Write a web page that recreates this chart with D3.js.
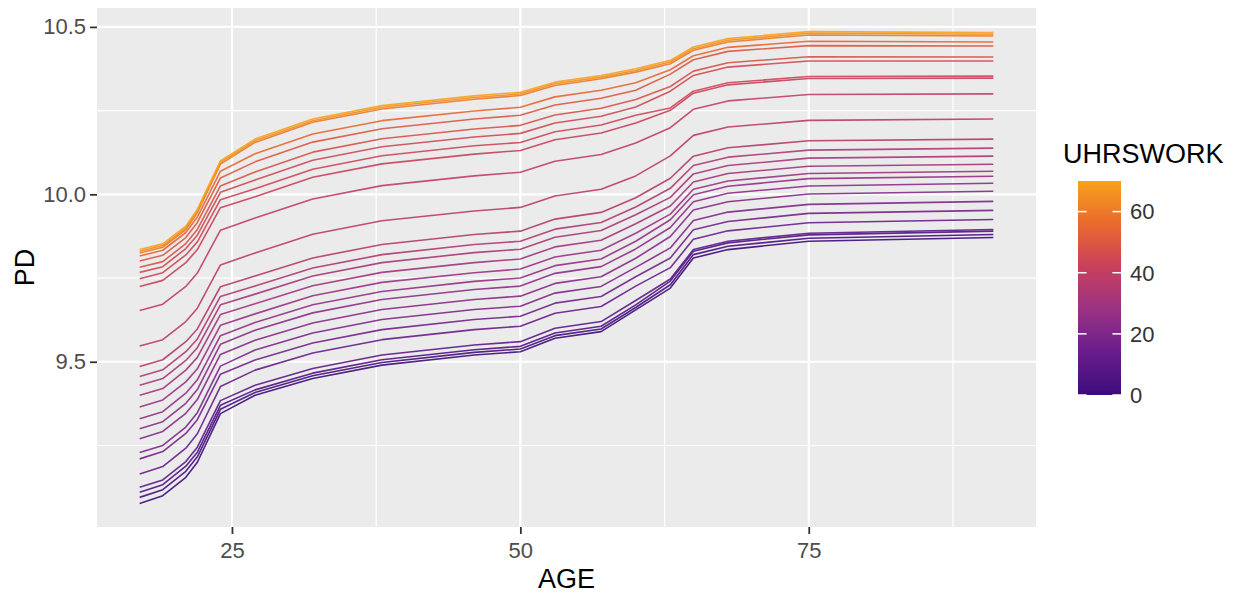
<!DOCTYPE html>
<html lang="en">
<head>
<meta charset="UTF-8">
<title>PD by AGE and UHRSWORK</title>
<style>
  html, body { margin: 0; padding: 0; background: #fff; }
  svg text { font-family: "Liberation Sans", Arial, sans-serif; }
</style>
</head>
<body>
<div id="wrapper"></div>
<script src="https://d3js.org/d3.v7.min.js"></script>
<script>
// x grid of the partial dependence (AGE)
const ages = [17, 19, 21, 22, 24, 27, 32, 38, 46, 50, 53, 57, 60, 63, 65, 68, 75, 91];

// PD curves, one per UHRSWORK value
const pdH70 = [9.835, 9.852, 9.905, 9.955, 10.100, 10.165, 10.225, 10.265, 10.294, 10.305, 10.335, 10.355, 10.375, 10.400, 10.440, 10.465, 10.486, 10.483];
const pdH65 = [9.830, 9.847, 9.900, 9.950, 10.095, 10.160, 10.220, 10.260, 10.289, 10.300, 10.330, 10.350, 10.370, 10.395, 10.435, 10.460, 10.481, 10.478];
const pdH60 = [9.825, 9.842, 9.895, 9.945, 10.090, 10.155, 10.215, 10.255, 10.284, 10.295, 10.325, 10.345, 10.365, 10.390, 10.430, 10.455, 10.476, 10.473];
const pdH55 = [9.816, 9.833, 9.886, 9.932, 10.069, 10.121, 10.180, 10.220, 10.249, 10.260, 10.291, 10.311, 10.333, 10.372, 10.414, 10.439, 10.457, 10.455];
const pdH50 = [9.801, 9.818, 9.871, 9.916, 10.049, 10.097, 10.156, 10.196, 10.225, 10.236, 10.267, 10.287, 10.311, 10.359, 10.402, 10.427, 10.444, 10.443];
const pdH48 = [9.782, 9.799, 9.853, 9.895, 10.025, 10.067, 10.126, 10.166, 10.195, 10.206, 10.237, 10.257, 10.283, 10.322, 10.368, 10.393, 10.411, 10.410];
const pdH45 = [9.767, 9.784, 9.838, 9.878, 10.006, 10.043, 10.102, 10.142, 10.171, 10.182, 10.213, 10.233, 10.261, 10.308, 10.355, 10.380, 10.398, 10.398];
const pdH44 = [9.748, 9.766, 9.819, 9.858, 9.984, 10.017, 10.075, 10.115, 10.145, 10.155, 10.187, 10.207, 10.236, 10.258, 10.308, 10.333, 10.352, 10.353];
const pdH42 = [9.725, 9.743, 9.796, 9.835, 9.960, 9.993, 10.051, 10.091, 10.120, 10.131, 10.163, 10.183, 10.213, 10.251, 10.302, 10.327, 10.346, 10.347];
const pdH40 = [9.653, 9.672, 9.725, 9.765, 9.893, 9.929, 9.986, 10.026, 10.055, 10.066, 10.099, 10.119, 10.153, 10.199, 10.254, 10.279, 10.298, 10.300];
const pdH38 = [9.547, 9.566, 9.620, 9.660, 9.789, 9.825, 9.881, 9.921, 9.950, 9.961, 9.995, 10.015, 10.055, 10.115, 10.176, 10.201, 10.221, 10.225];
const pdH36 = [9.486, 9.506, 9.560, 9.598, 9.724, 9.756, 9.810, 9.850, 9.880, 9.890, 9.926, 9.946, 9.990, 10.048, 10.114, 10.139, 10.160, 10.165];
const pdH34 = [9.456, 9.476, 9.530, 9.568, 9.695, 9.726, 9.780, 9.820, 9.850, 9.860, 9.896, 9.916, 9.962, 10.018, 10.086, 10.111, 10.132, 10.138];
const pdH32 = [9.430, 9.450, 9.504, 9.542, 9.670, 9.702, 9.756, 9.796, 9.826, 9.836, 9.872, 9.892, 9.939, 9.991, 10.061, 10.086, 10.108, 10.114];
const pdH30 = [9.400, 9.420, 9.475, 9.513, 9.641, 9.673, 9.727, 9.767, 9.796, 9.807, 9.843, 9.863, 9.912, 9.965, 10.037, 10.062, 10.084, 10.090];
const pdH28 = [9.365, 9.386, 9.440, 9.479, 9.609, 9.643, 9.697, 9.737, 9.766, 9.777, 9.813, 9.833, 9.884, 9.941, 10.015, 10.040, 10.062, 10.069];
const pdH26 = [9.330, 9.351, 9.406, 9.446, 9.578, 9.617, 9.670, 9.710, 9.740, 9.750, 9.787, 9.807, 9.860, 9.924, 9.999, 10.024, 10.047, 10.054];
const pdH24 = [9.300, 9.321, 9.376, 9.417, 9.552, 9.594, 9.646, 9.686, 9.716, 9.726, 9.764, 9.784, 9.837, 9.901, 9.978, 10.003, 10.025, 10.033];
const pdH22 = [9.270, 9.292, 9.346, 9.387, 9.522, 9.564, 9.616, 9.656, 9.686, 9.696, 9.734, 9.754, 9.809, 9.874, 9.953, 9.978, 10.001, 10.009];
const pdH20 = [9.229, 9.250, 9.305, 9.348, 9.487, 9.535, 9.586, 9.626, 9.656, 9.666, 9.705, 9.725, 9.782, 9.840, 9.922, 9.947, 9.970, 9.979];
const pdH17 = [9.210, 9.232, 9.286, 9.327, 9.463, 9.505, 9.556, 9.596, 9.626, 9.636, 9.675, 9.695, 9.754, 9.810, 9.894, 9.919, 9.943, 9.952];
const pdH14 = [9.165, 9.187, 9.242, 9.285, 9.426, 9.475, 9.526, 9.566, 9.596, 9.606, 9.645, 9.665, 9.726, 9.781, 9.866, 9.891, 9.915, 9.925];
const pdH10 = [9.125, 9.147, 9.202, 9.245, 9.384, 9.430, 9.480, 9.520, 9.550, 9.560, 9.600, 9.620, 9.683, 9.747, 9.835, 9.860, 9.884, 9.895];
const pdH6  = [9.110, 9.133, 9.188, 9.230, 9.370, 9.416, 9.466, 9.506, 9.536, 9.546, 9.586, 9.606, 9.670, 9.741, 9.830, 9.855, 9.879, 9.890];
const pdH3  = [9.095, 9.118, 9.173, 9.216, 9.358, 9.408, 9.458, 9.498, 9.528, 9.538, 9.578, 9.598, 9.662, 9.730, 9.820, 9.845, 9.869, 9.880];
const pdH0  = [9.077, 9.100, 9.155, 9.200, 9.345, 9.400, 9.450, 9.490, 9.520, 9.530, 9.570, 9.590, 9.655, 9.720, 9.810, 9.835, 9.860, 9.871];

const hours = [0, 3, 6, 10, 14, 17, 20, 22, 24, 26, 28, 30, 32, 34, 36, 38, 40, 42, 44, 45, 48, 50, 55, 60, 65, 70];
const curves = [pdH0, pdH3, pdH6, pdH10, pdH14, pdH17, pdH20, pdH22, pdH24, pdH26, pdH28, pdH30, pdH32,
                pdH34, pdH36, pdH38, pdH40, pdH42, pdH44, pdH45, pdH48, pdH50, pdH55, pdH60, pdH65, pdH70];

// ticks
const xTicks = [25, 50, 75];
const xMinor = [37.5, 62.5, 87.5];
const yTicks = [9.5, 10.0, 10.5];
const yMinor = [9.25, 9.75, 10.25];
const legendTicks = [0, 20, 40, 60];

// colour ramp (purple -> red -> orange)
const colourStops = [0, 14, 28, 42, 56, 70];
const colourValues = ["#3d0b7c", "#681d8b", "#9a3284", "#c8405c", "#ea692d", "#f7a21c"];

const width = 1249, height = 598;
const panel = { left: 97, right: 1036, top: 8, bottom: 527 };

const svg = d3.select('#wrapper').append('svg')
    .attr('width', width)
    .attr('height', height);

// ggplot style 5% expansion
const xExt = d3.extent(ages);
const yExt = d3.extent(curves.flat());
const xPad = (xExt[1] - xExt[0]) * 0.05;
const yPad = (yExt[1] - yExt[0]) * 0.05;

const x = d3.scaleLinear()
    .domain([xExt[0] - xPad, xExt[1] + xPad])
    .range([panel.left, panel.right]);
const y = d3.scaleLinear()
    .domain([yExt[0] - yPad, yExt[1] + yPad])
    .range([panel.bottom, panel.top]);
const colour = d3.scaleLinear()
    .domain(colourStops)
    .range(colourValues)
    .interpolate(d3.interpolateRgb);

// panel background
svg.append('rect')
    .attr('x', panel.left)
    .attr('y', panel.top)
    .attr('width', panel.right - panel.left)
    .attr('height', panel.bottom - panel.top)
    .attr('fill', '#ebebeb');

// minor grid
const grid = svg.append('g');
grid.selectAll('.xminor').data(xMinor).join('line')
    .attr('x1', d => x(d)).attr('x2', d => x(d))
    .attr('y1', panel.top).attr('y2', panel.bottom)
    .attr('stroke', '#fff').attr('stroke-width', 1.2);
grid.selectAll('.yminor').data(yMinor).join('line')
    .attr('y1', d => y(d)).attr('y2', d => y(d))
    .attr('x1', panel.left).attr('x2', panel.right)
    .attr('stroke', '#fff').attr('stroke-width', 1.2);

// major grid
grid.selectAll('.xmajor').data(xTicks).join('line')
    .attr('x1', d => x(d)).attr('x2', d => x(d))
    .attr('y1', panel.top).attr('y2', panel.bottom)
    .attr('stroke', '#fff').attr('stroke-width', 2.2);
grid.selectAll('.ymajor').data(yTicks).join('line')
    .attr('y1', d => y(d)).attr('y2', d => y(d))
    .attr('x1', panel.left).attr('x2', panel.right)
    .attr('stroke', '#fff').attr('stroke-width', 2.2);

// the PD lines, low hours first so the orange ones sit on top
const line = d3.line()
    .x((d, i) => x(ages[i]))
    .y(d => y(d));

svg.append('g')
    .selectAll('path')
    .data(curves)
    .join('path')
    .attr('d', d => line(d))
    .attr('fill', 'none')
    .attr('stroke', (d, i) => colour(hours[i]))
    .attr('stroke-opacity', 0.9)
    .attr('stroke-width', 1.6)
    .attr('stroke-linejoin', 'round');

// axes
const xAxis = d3.axisBottom(x)
    .tickValues(xTicks)
    .tickSizeInner(7)
    .tickSizeOuter(0)
    .tickPadding(8);
const xAxisG = svg.append('g')
    .attr('transform', `translate(0,${panel.bottom})`)
    .call(xAxis);

const yAxis = d3.axisLeft(y)
    .tickValues(yTicks)
    .tickFormat(d3.format('.1f'))
    .tickSizeInner(7)
    .tickSizeOuter(0)
    .tickPadding(4);
const yAxisG = svg.append('g')
    .attr('transform', `translate(${panel.left},0)`)
    .call(yAxis);

[xAxisG, yAxisG].forEach(g => {
    g.select('.domain').remove();
    g.selectAll('.tick line').attr('stroke', '#333').attr('stroke-width', 1.8);
    g.selectAll('.tick text')
        .attr('fill', '#4d4d4d')
        .style('font-size', '22px')
        .style('font-family', '"Liberation Sans", Arial, sans-serif');
});

// axis titles
svg.append('text')
    .attr('x', (panel.left + panel.right) / 2)
    .attr('y', 588)
    .attr('text-anchor', 'middle')
    .style('font-size', '27px')
    .attr('fill', '#000')
    .text('AGE');

svg.append('text')
    .attr('transform', `translate(34,${(panel.top + panel.bottom) / 2}) rotate(-90)`)
    .attr('text-anchor', 'middle')
    .style('font-size', '27px')
    .attr('fill', '#000')
    .text('PD');

// colour bar legend
const bar = { left: 1078, width: 43 };
const lg = d3.scaleLinear()
    .domain(d3.extent(hours))
    .range([395, 181]);

const defs = svg.append('defs');
const grad = defs.append('linearGradient')
    .attr('id', 'hoursGrad')
    .attr('x1', 0).attr('y1', 1)
    .attr('x2', 0).attr('y2', 0);
const gradSteps = d3.range(0, 1.0001, 0.05);
grad.selectAll('stop').data(gradSteps).join('stop')
    .attr('offset', d => d)
    .attr('stop-color', d => colour(d3.min(hours) + d * (d3.max(hours) - d3.min(hours))));

svg.append('text')
    .attr('x', 1063)
    .attr('y', 163)
    .style('font-size', '27px')
    .attr('fill', '#000')
    .text('UHRSWORK');

svg.append('rect')
    .attr('x', bar.left)
    .attr('y', lg(d3.max(hours)))
    .attr('width', bar.width)
    .attr('height', lg(d3.min(hours)) - lg(d3.max(hours)))
    .attr('fill', 'url(#hoursGrad)');

const legendTickG = svg.append('g');
legendTickG.selectAll('.tl').data(legendTicks).join('line')
    .attr('x1', bar.left).attr('x2', bar.left + bar.width / 5)
    .attr('y1', d => lg(d)).attr('y2', d => lg(d))
    .attr('stroke', '#fff').attr('stroke-width', 1.5);
legendTickG.selectAll('.tr').data(legendTicks).join('line')
    .attr('x1', bar.left + bar.width * 4 / 5).attr('x2', bar.left + bar.width)
    .attr('y1', d => lg(d)).attr('y2', d => lg(d))
    .attr('stroke', '#fff').attr('stroke-width', 1.5);

svg.append('g')
    .selectAll('text')
    .data(legendTicks)
    .join('text')
    .attr('x', bar.left + bar.width + 9)
    .attr('y', d => lg(d))
    .attr('dy', '0.36em')
    .style('font-size', '22px')
    .attr('fill', '#333')
    .text(d => d);
</script>
</body>
</html>
